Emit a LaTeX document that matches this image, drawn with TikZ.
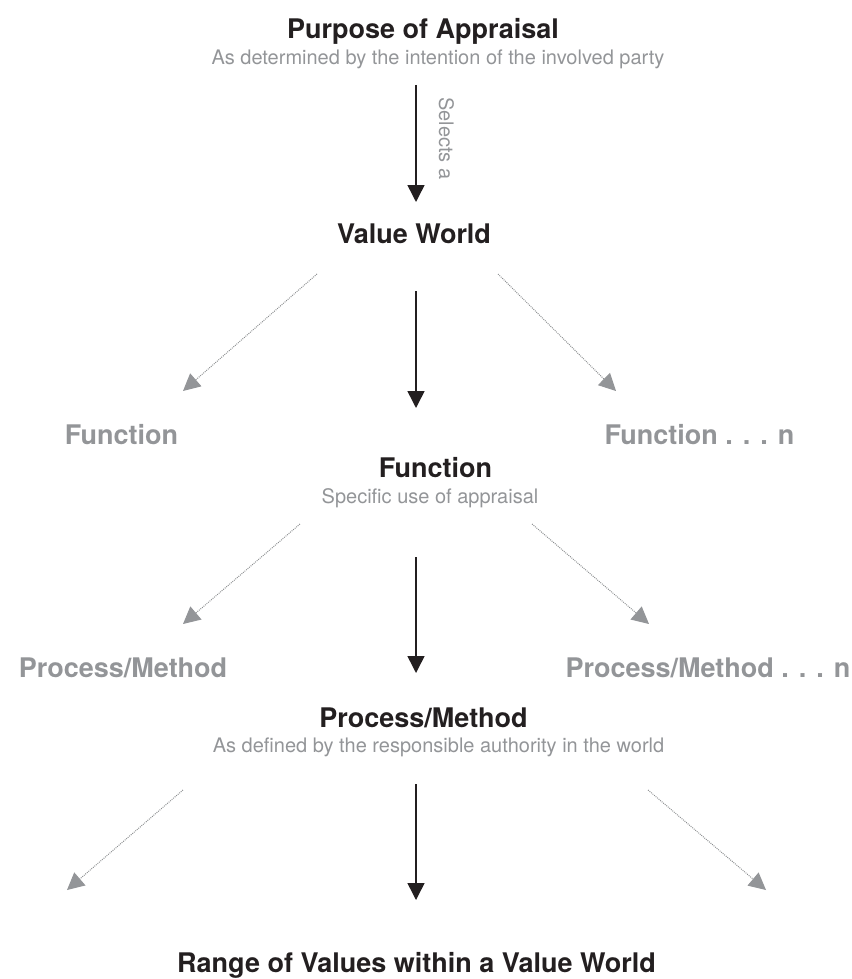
\documentclass[tikz,border=0pt]{standalone}
\usepackage{fontspec}
\setmainfont{TeX Gyre Heros}
\usetikzlibrary{arrows.meta}
\definecolor{ink}{HTML}{231F20}
\definecolor{mute}{HTML}{939598}
\definecolor{dotc}{HTML}{8A8C8E}
\tikzset{
  head/.style={anchor=base, inner sep=0pt, text=ink, font=\fontsize{27}{30}\selectfont\bfseries},
  ghost/.style={anchor=base, inner sep=0pt, text=mute, font=\fontsize{27}{30}\selectfont\bfseries},
  sub/.style={anchor=base, inner sep=0pt, text=mute, font=\fontsize{20}{24}\selectfont},
  mainarrow/.style={draw=ink, line width=1.5pt, -{Triangle[length=17pt,width=17pt]}},
  sidearrow/.style={draw=dotc, line width=1pt, dash pattern=on 0.9pt off 1.1pt,
    -{Triangle[length=17pt,width=17pt,fill=mute,color=mute]}}
}
\begin{document}
\begin{tikzpicture}[x=1pt,y=-1pt]
\useasboundingbox (0,0) rectangle (851,979);
% text nodes
\node[head] (purpose) at (423,39) {Purpose of Appraisal};
\node[sub] (purposeSub) at (438,65) {As determined by the intention of the involved party};
\node[head] (valueWorld) at (414,243) {Value World};
\node[ghost] (funcL) at (121.5,444) {Function};
\node[ghost] (funcN) at (699.5,444) {Function . . . n};
\node[head] (func) at (435.5,477) {Function};
\node[sub] (funcSub) at (430,503) {Specific use of appraisal};
\node[ghost] (procL) at (123,677) {Process/Method};
\node[ghost] (procN) at (708,677) {Process/Method . . . n};
\node[head] (proc) at (423.5,727) {Process/Method};
\node[sub] (procSub) at (438.5,752) {As defined by the responsible authority in the world};
\node[head] (range) at (416.5,972) {Range of Values within a Value World};
% connector end points
\coordinate (a1s) at (416,85);  \coordinate (a1e) at (416,202);
\coordinate (a2s) at (416,291); \coordinate (a2e) at (416,408);
\coordinate (a3s) at (416,557); \coordinate (a3e) at (416,673);
\coordinate (a4s) at (416,784); \coordinate (a4e) at (416,900);
\coordinate (v1s) at (317,274); \coordinate (v1e) at (183,391);
\coordinate (v2s) at (498,274); \coordinate (v2e) at (616,391);
\coordinate (f1s) at (300,524); \coordinate (f1e) at (183,624);
\coordinate (f2s) at (532,524); \coordinate (f2e) at (649,624);
\coordinate (p1s) at (183,790); \coordinate (p1e) at (67,890);
\coordinate (p2s) at (648,790); \coordinate (p2e) at (766,890);
% main arrows
\draw[mainarrow] (a1s) -- (a1e);
\node[inner sep=0pt, rotate=-90, anchor=base west, text=mute, font=\fontsize{20}{24}\selectfont] (selects) at (439,97) {Selects a};
\draw[mainarrow] (a2s) -- (a2e);
\draw[mainarrow] (a3s) -- (a3e);
\draw[mainarrow] (a4s) -- (a4e);
% side arrows
\draw[sidearrow] (v1s) -- (v1e);
\draw[sidearrow] (v2s) -- (v2e);
\draw[sidearrow] (f1s) -- (f1e);
\draw[sidearrow] (f2s) -- (f2e);
\draw[sidearrow] (p1s) -- (p1e);
\draw[sidearrow] (p2s) -- (p2e);
\end{tikzpicture}
\end{document}
